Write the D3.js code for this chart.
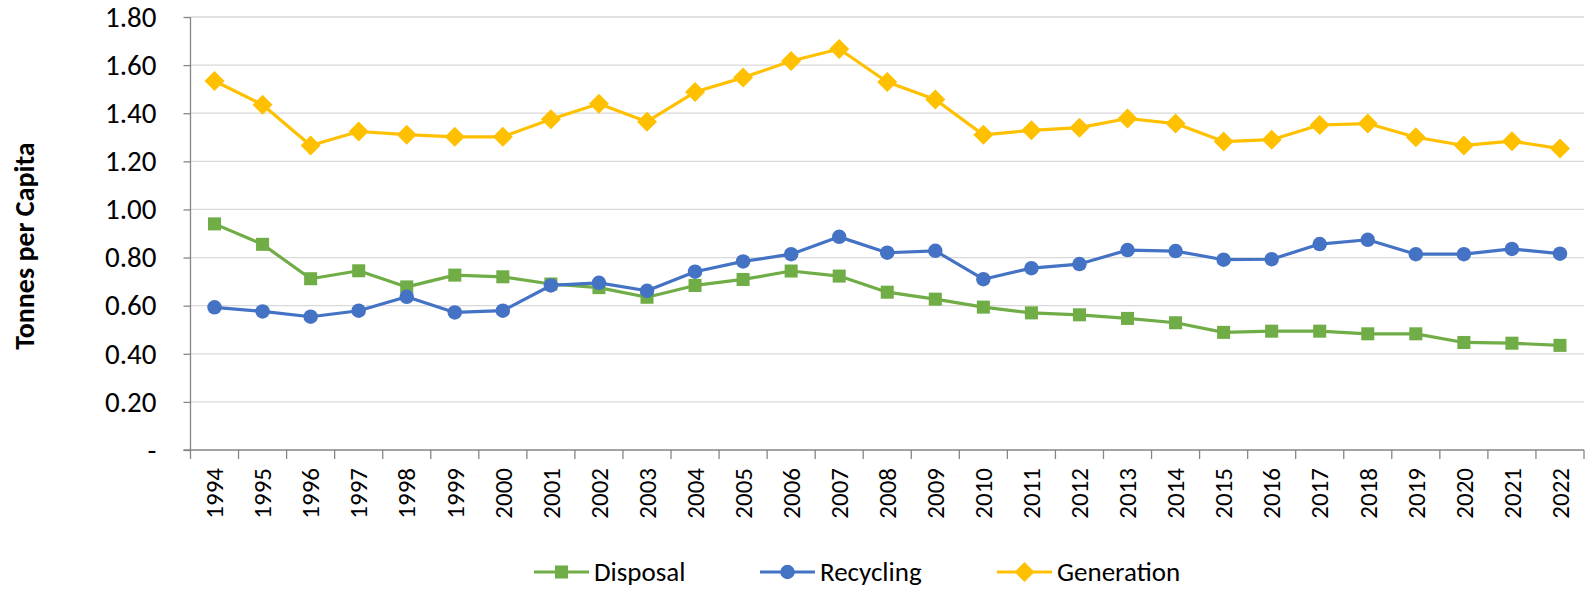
<!doctype html>
<html>
	<head>
		<script src="https://d3js.org/d3.v7.min.js"></script>
		<style>
		body { margin: 0; background: #fff; }
		text { font-family: Carlito, Calibri, Lato, "Liberation Sans", sans-serif; fill: #000; }
		</style>
	</head>
	<body>
		<svg id="chart" width="1589" height="589"></svg>
		<script>
		var years = d3.range(1994, 2023).map(String);
		var disposal = [0.94, 0.855, 0.712, 0.745, 0.678, 0.727, 0.72, 0.69, 0.675, 0.635, 0.684, 0.709, 0.744, 0.723, 0.656, 0.627, 0.594, 0.57, 0.562, 0.547, 0.529, 0.489, 0.494, 0.494, 0.483, 0.483, 0.447, 0.444, 0.435];
		var recycling = [0.593, 0.576, 0.554, 0.579, 0.637, 0.572, 0.579, 0.684, 0.695, 0.662, 0.741, 0.784, 0.814, 0.886, 0.82, 0.828, 0.71, 0.756, 0.773, 0.831, 0.827, 0.791, 0.793, 0.856, 0.874, 0.814, 0.814, 0.836, 0.816];
		var generation = [1.534, 1.435, 1.266, 1.324, 1.311, 1.302, 1.302, 1.375, 1.439, 1.365, 1.488, 1.548, 1.617, 1.667, 1.53, 1.457, 1.31, 1.329, 1.34, 1.378, 1.357, 1.282, 1.29, 1.351, 1.357, 1.3, 1.266, 1.284, 1.253];
		var yTicks = [0, 0.2, 0.4, 0.6, 0.8, 1.0, 1.2, 1.4, 1.6, 1.8];

		// Excel-style diamond: a square turned 45 degrees
		var squareDiamond = {
			draw: function(ctx, size) {
				var r = Math.sqrt(size / 2);
				ctx.moveTo(0, -r); ctx.lineTo(r, 0); ctx.lineTo(0, r); ctx.lineTo(-r, 0); ctx.closePath();
			}
		};

		var series = [
			{name: "Disposal", values: disposal, color: "#70AD47", shape: d3.symbolSquare, size: 170},
			{name: "Recycling", values: recycling, color: "#4472C4", shape: d3.symbolCircle, size: 165},
			{name: "Generation", values: generation, color: "#FFC000", shape: squareDiamond, size: 200}
		];

		var svg = d3.select("#chart");
		var mLeft = 190.5, mRight = 1584, mTop = 17, mBottom = 450;

		var x = d3.scaleBand().domain(years).range([mLeft, mRight]);
		var y = d3.scaleLinear().domain([0, 1.8]).range([mBottom, mTop]);

		// gridlines
		svg.append("g").selectAll("line").data(yTicks.slice(1)).join("line")
			.attr("x1", mLeft).attr("x2", mRight)
			.attr("y1", d => y(d)).attr("y2", d => y(d))
			.attr("stroke", "#d9d9d9").attr("stroke-width", 1.3);

		var yAxis = svg.append("g").attr("transform", "translate(" + mLeft + ",0)")
			.call(d3.axisLeft(y).tickValues(yTicks).tickSize(7).tickPadding(27)
				.tickFormat(d => d === 0 ? "-" : d3.format(".2f")(d)));
		yAxis.selectAll("text").style("font-size", "29px");

		var xAxis = svg.append("g").attr("transform", "translate(0," + mBottom + ")")
			.call(d3.axisBottom(x).tickSize(0).tickSizeOuter(0));
		xAxis.selectAll(".tick text")
			.attr("transform", "rotate(-90)")
			.attr("x", -18).attr("y", 0).attr("dy", "0.35em")
			.style("text-anchor", "end").style("font-size", "25px");
		// tick marks at band boundaries
		xAxis.selectAll(".sep").data(years.concat(["end"])).join("line")
			.attr("class", "sep")
			.attr("x1", (d, i) => mLeft + i * x.step()).attr("x2", (d, i) => mLeft + i * x.step())
			.attr("y1", 0).attr("y2", 9);

		svg.selectAll(".domain, .tick line, .sep").attr("stroke", "#868686").attr("stroke-width", 1.3);
		yAxis.select(".domain").attr("d", "M0," + mTop + "V" + mBottom);
		xAxis.select(".domain").attr("d", "M" + (mLeft - 7) + ",0H" + mRight);

		svg.append("text")
			.attr("transform", "translate(34,246) rotate(-90)")
			.attr("text-anchor", "middle")
			.style("font-size", "28px").style("font-weight", "bold")
			.text("Tonnes per Capita");

		var line = d3.line().x((d, i) => x(years[i]) + x.bandwidth() / 2).y(d => y(d));

		series.forEach(function(s) {
			var g = svg.append("g");
			g.append("path").datum(s.values)
				.attr("d", line).attr("fill", "none")
				.attr("stroke", s.color).attr("stroke-width", 3.2).attr("stroke-linejoin", "round");
			g.selectAll("path.m").data(s.values).join("path")
				.attr("class", "m")
				.attr("d", d3.symbol().type(s.shape).size(s.size))
				.attr("transform", (d, i) => "translate(" + (x(years[i]) + x.bandwidth() / 2) + "," + y(d) + ")")
				.attr("fill", s.color);
		});

		// legend
		var legendX = [534, 760, 997];
		var legend = svg.append("g").selectAll("g").data(series).join("g")
			.attr("transform", (d, i) => "translate(" + legendX[i] + ",572)");
		legend.append("line").attr("x1", 0).attr("x2", 55)
			.attr("stroke", d => d.color).attr("stroke-width", 3.2);
		legend.append("path")
			.attr("d", d => d3.symbol().type(d.shape).size(d.size)())
			.attr("transform", "translate(27.5,0)")
			.attr("fill", d => d.color);
		legend.append("text").attr("x", 60).attr("dy", "0.35em")
			.style("font-size", "27px").text(d => d.name);
		</script>
	</body>
</html>
